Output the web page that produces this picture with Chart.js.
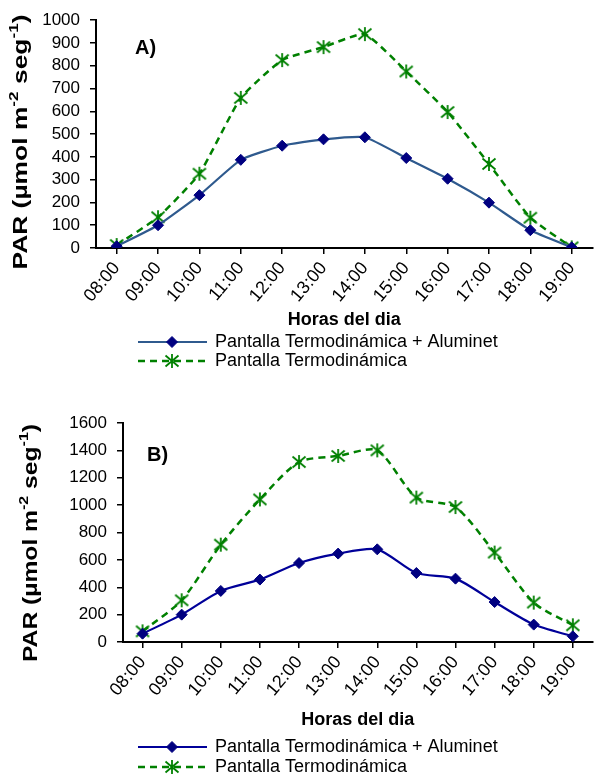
<!DOCTYPE html>
<html>
<head>
<meta charset="utf-8">
<script src="https://cdn.jsdelivr.net/npm/chart.js@4.4.1/dist/chart.umd.min.js"></script>
<style>
  body { margin: 0; background: #fff; }
  #wrap { position: relative; width: 601px; height: 775px; }
  .box { position: absolute; left: 0; width: 601px; }
</style>
</head>
<body>
<div id="wrap">
  <div class="box" style="top:0;height:390px"><canvas id="chartA"></canvas></div>
  <div class="box" style="top:390px;height:385px"><canvas id="chartB"></canvas></div>
</div>
<script>
// datos
const horas = ['08:00', '09:00', '10:00', '11:00', '12:00', '13:00', '14:00', '15:00', '16:00', '17:00', '18:00', '19:00'];
const aluminetA = [8, 100, 232, 387, 449, 477, 486, 395, 304, 199, 78, 3];
const termoA = [13, 135, 326, 659, 825, 882, 939, 775, 597, 369, 133, 3];
const aluminetB = [61, 200, 373, 456, 577, 646, 677, 504, 463, 292, 127, 42];
const termoB = [78, 305, 711, 1042, 1315, 1359, 1400, 1055, 986, 653, 288, 122];
const yMaxA = 1000, yStepA = 100;
const yMaxB = 1600, yStepB = 200;
const serieNames = ['Pantalla Termodinámica + Aluminet', 'Pantalla Termodinámica'];

const FONT = '"Liberation Sans", Arial, sans-serif';

// marcador asterisco tipo excel (X con linea vertical)
function starMarker(color) {
  const c = document.createElement('canvas');
  c.width = 16; c.height = 16;
  const g = c.getContext('2d');
  g.strokeStyle = color;
  g.lineWidth = 1.8;
  g.beginPath();
  g.moveTo(8, 1); g.lineTo(8, 15);
  g.moveTo(1.5, 2.5); g.lineTo(14.5, 13.5);
  g.moveTo(14.5, 2.5); g.lineTo(1.5, 13.5);
  g.stroke();
  return c;
}
const greenStar = starMarker('#008000');

// titulo del eje y con superindices
function drawYTitle(ctx, cx, cy, len) {
  const parts = [
    { t: 'PAR (µmol m', sup: false },
    { t: '-2', sup: true },
    { t: ' seg', sup: false },
    { t: '-1', sup: true },
    { t: ')', sup: false }
  ];
  const big = 'bold 20px ' + FONT, small = 'bold 13px ' + FONT;
  let w = 0;
  parts.forEach(p => { ctx.font = p.sup ? small : big; p.w = ctx.measureText(p.t).width; w += p.w; });
  ctx.save();
  ctx.translate(cx, cy);
  ctx.rotate(-Math.PI / 2);
  ctx.scale(len / w, 1);
  ctx.fillStyle = '#000';
  ctx.textBaseline = 'middle';
  ctx.textAlign = 'left';
  let x = -w / 2;
  parts.forEach(p => {
    ctx.font = p.sup ? small : big;
    ctx.fillText(p.t, x, p.sup ? -7 : 0);
    x += p.w;
  });
  ctx.restore();
}

function drawMarker(ctx, ds, x, y) {
  if (typeof ds.pointStyle !== 'string') {
    ctx.drawImage(ds.pointStyle, x - ds.pointStyle.width / 2, y - ds.pointStyle.height / 2);
    return;
  }
  const opts = { pointStyle: ds.pointStyle, radius: ds.pointRadius, borderWidth: ds.pointBorderWidth, rotation: 0 };
  ctx.save();
  ctx.setLineDash([]);
  ctx.fillStyle = ds.pointBackgroundColor;
  ctx.strokeStyle = ds.pointBorderColor;
  ctx.lineWidth = ds.pointBorderWidth;
  Chart.helpers.drawPoint(ctx, opts, x, y);
  ctx.restore();
}

const extras = {
  id: 'extras',
  afterDraw(chart, args, o) {
    const ctx = chart.ctx;
    drawYTitle(ctx, o.titleX, o.titleY, o.titleLen);

    ctx.save();
    ctx.fillStyle = '#000';
    ctx.font = 'bold 20px ' + FONT;
    ctx.textBaseline = 'middle';
    ctx.fillText(o.panel, o.panelX, o.panelY);
    ctx.restore();

    // leyenda
    chart.data.datasets.forEach((ds, i) => {
      const y = o.legendY[i];
      ctx.save();
      ctx.strokeStyle = ds.borderColor;
      ctx.lineWidth = ds.borderWidth;
      ctx.setLineDash(ds.borderDash || []);
      ctx.beginPath();
      ctx.moveTo(138, y);
      ctx.lineTo(207, y);
      ctx.stroke();
      ctx.restore();
      drawMarker(ctx, ds, 172, y);
      ctx.save();
      ctx.fillStyle = '#000';
      ctx.font = '18px ' + FONT;
      ctx.textBaseline = 'middle';
      ctx.fillText(ds.label, 215, y);
      ctx.restore();
    });
  }
};

function makeChart(id, s1, s2, lineColor1, yMax, yStep, lay) {
  return new Chart(document.getElementById(id), {
    type: 'line',
    data: {
      labels: horas,
      datasets: [
        {
          label: serieNames[0],
          data: s1,
          borderColor: lineColor1,
          borderWidth: 2.2,
          tension: lay.tension,
          pointStyle: 'rectRot',
          pointRadius: 5.5,
          pointBorderWidth: 1,
          pointBackgroundColor: '#000080',
          pointBorderColor: '#000080'
        },
        {
          label: serieNames[1],
          data: s2,
          borderColor: '#008000',
          borderWidth: 2.5,
          borderDash: [7, 5],
          tension: lay.tension,
          pointStyle: greenStar,
          pointRadius: 7,
          pointBorderWidth: 1.6,
          pointBackgroundColor: '#008000',
          pointBorderColor: '#008000'
        }
      ]
    },
    options: {
      responsive: true,
      maintainAspectRatio: false,
      animation: false,
      layout: { padding: { top: lay.top, right: 1, bottom: lay.bottom, left: 0 } },
      plugins: {
        legend: { display: false },
        tooltip: { enabled: false },
        extras: lay.extras
      },
      scales: {
        x: {
          offset: true,
          grid: { offset: false, drawOnChartArea: false, color: '#000', lineWidth: 1.5, tickLength: 6 },
          border: { color: '#000', width: 2 },
          ticks: { color: '#000', font: { family: FONT, size: 18 }, minRotation: 50, maxRotation: 50, autoSkip: false, padding: 4 },
          title: { display: true, text: 'Horas del dia', color: '#000', font: { family: FONT, size: 18, weight: 'bold' }, padding: { top: 0, bottom: 4 } },
          afterFit(scale) { scale.height = lay.xHeight; }
        },
        y: {
          min: 0,
          max: yMax,
          grid: { drawOnChartArea: false, color: '#000', lineWidth: 1.5, tickLength: 6 },
          border: { color: '#000', width: 2 },
          ticks: {
            stepSize: yStep, autoSkip: false, color: '#000', font: { family: FONT, size: 17 }, padding: 10,
            callback: v => String(v)
          },
          afterFit(scale) { scale.width = lay.yWidth; }
        }
      }
    },
    plugins: [extras]
  });
}

makeChart('chartA', aluminetA, termoA, '#2F5A8E', yMaxA, yStepA, {
  top: 17, bottom: 55, xHeight: 87, yWidth: 96, tension: 0.15,
  extras: { titleX: 21, titleY: 142, titleLen: 255, panel: 'A)', panelX: 135, panelY: 48, legendY: [342, 361] }
});

makeChart('chartB', aluminetB, termoB, '#000099', yMaxB, yStepB, {
  top: 33, bottom: 40, xHeight: 93, yWidth: 123, tension: 0.25,
  extras: { titleX: 31, titleY: 153, titleLen: 238, panel: 'B)', panelX: 147, panelY: 65, legendY: [357, 377] }
});
</script>
</body>
</html>
